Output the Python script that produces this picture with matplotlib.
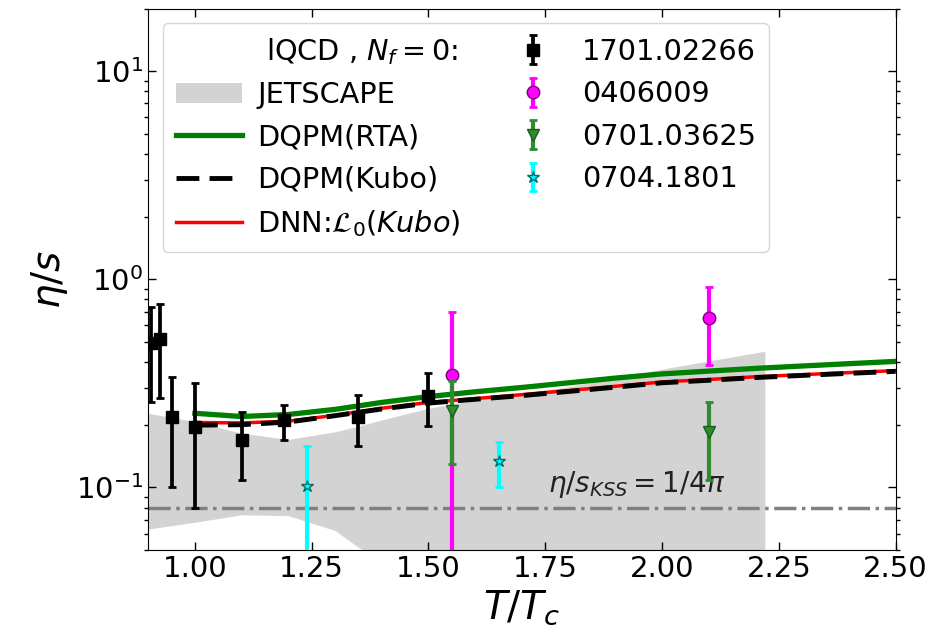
import numpy as np
import matplotlib
matplotlib.use("Agg")
import matplotlib.pyplot as plt
from matplotlib.lines import Line2D
from matplotlib.patches import Patch

# ---- data ----
# JETSCAPE band
band_x = [0.90, 1.00, 1.10, 1.20, 1.30, 1.35, 1.40, 1.50, 1.60, 1.70, 1.80, 1.90, 2.00, 2.10, 2.22]
band_hi = [0.227, 0.207, 0.182, 0.170, 0.185, 0.197, 0.211, 0.240, 0.262, 0.283, 0.305, 0.335, 0.370, 0.405, 0.451]
band_lo = [0.063, 0.068, 0.0738, 0.0731, 0.062, 0.0515, 0.045, 0.036, 0.030, 0.026, 0.023, 0.021, 0.020, 0.019, 0.018]

# curves
curve_x = [1.0, 1.1, 1.2, 1.3, 1.4, 1.5, 1.6, 1.7, 1.8, 1.9, 2.0, 2.1, 2.2, 2.3, 2.4, 2.5]
rta = [0.227, 0.219, 0.224, 0.237, 0.256, 0.273, 0.288, 0.302, 0.318, 0.335, 0.351, 0.362, 0.373, 0.383, 0.393, 0.403]
kubo = [0.199, 0.200, 0.206, 0.221, 0.238, 0.254, 0.265, 0.276, 0.289, 0.303, 0.318, 0.327, 0.337, 0.345, 0.353, 0.361]
dnn = [0.205, 0.204, 0.208, 0.222, 0.240, 0.256, 0.267, 0.279, 0.292, 0.306, 0.321, 0.330, 0.340, 0.348, 0.356, 0.364]

# lattice data
b_x = [0.906, 0.926, 0.951, 1.0, 1.1, 1.19, 1.35, 1.5]
b_y = [0.494, 0.517, 0.219, 0.196, 0.169, 0.210, 0.219, 0.275]
b_hi = [0.732, 0.763, 0.339, 0.317, 0.229, 0.248, 0.278, 0.354]
b_lo = [0.258, 0.268, 0.100, 0.0795, 0.109, 0.169, 0.158, 0.198]

m_x = [1.55, 2.1]
m_y = [0.345, 0.648]
m_hi = [0.695, 0.918]
m_lo = [0.01, 0.386]

g_x = [1.55, 2.1]
g_y = [0.234, 0.185]
g_hi = [0.323, 0.257]
g_lo = [0.130, 0.108]

c_x = [1.24, 1.65]
c_y = [0.1015, 0.134]
c_hi = [0.158, 0.166]
c_lo = [0.01, 0.100]

kss = 1.0 / (4 * np.pi)

def err(y, lo, hi):
    y = np.asarray(y); lo = np.asarray(lo); hi = np.asarray(hi)
    return [y - lo, hi - y]

fig = plt.figure(figsize=(9.32, 6.34), dpi=100)
ax = fig.add_axes([0.159, 0.1325, 0.802, 0.854])

band = ax.fill_between(band_x, band_lo, band_hi, color='#d3d3d3', lw=0, zorder=1)
ax.axhline(kss, color='gray', ls='-.', lw=2.5, zorder=2)

l_rta, = ax.plot(curve_x, rta, color='green', lw=3.8, zorder=3)
l_dnn, = ax.plot(curve_x, dnn, color='red', lw=2.5, zorder=3)
l_kubo, = ax.plot(curve_x, kubo, color='black', lw=3.5, dashes=(4.7, 2.1), zorder=4)

eb_b = ax.errorbar(b_x, b_y, yerr=err(b_y, b_lo, b_hi), fmt='s', color='black',
                   ms=9, elinewidth=2.7, capsize=3, capthick=2, zorder=5)
eb_m = ax.errorbar(m_x, m_y, yerr=err(m_y, m_lo, m_hi), fmt='o', color='magenta',
                   mfc='magenta', mec='#7a007a', ms=9, elinewidth=3, capsize=3, capthick=2, zorder=5)
eb_g = ax.errorbar(g_x, g_y, yerr=err(g_y, g_lo, g_hi), fmt='v', color='#2e8b2e',
                   mfc='#2e8b2e', mec='#1a5e1a', ms=9, elinewidth=3, capsize=3, capthick=2, zorder=6)
eb_c = ax.errorbar(c_x, c_y, yerr=err(c_y, c_lo, c_hi), fmt='*', color='cyan',
                   mfc='cyan', mec='#006b6b', ms=9, elinewidth=3, capsize=3, capthick=2, zorder=6)

ax.text(1.755, 0.103, r'$\eta/s_{KSS}=1/4\pi$', fontsize=20, ha='left', va='center', color='#222222')

ax.set_yscale('log')
ax.set_xlim(0.9, 2.5)
ax.set_ylim(0.05, 20)
ax.set_xticks([1.0, 1.25, 1.5, 1.75, 2.0, 2.25, 2.5])
ax.set_xticklabels(['1.00', '1.25', '1.50', '1.75', '2.00', '2.25', '2.50'])
ax.tick_params(which='major', direction='in', top=True, right=True, length=6, width=1, labelsize=21)
ax.tick_params(which='minor', direction='out', right=True, length=3, width=1)
ax.set_xlabel(r'$T/T_c$', fontsize=28)
ax.set_ylabel(r'$\eta/s$', fontsize=28)

blank = Line2D([], [], color='none')
jet = Patch(facecolor='#d3d3d3', edgecolor='none')
handles = [blank, jet, l_rta, l_kubo, l_dnn, eb_b, eb_m, eb_g, eb_c]
labels = [r' lQCD , $N_f=0$:', 'JETSCAPE', 'DQPM(RTA)', 'DQPM(Kubo)', r'DNN:$\mathcal{L}_0(Kubo)$',
          '1701.02266', '0406009', '0701.03625', '0704.1801']
ax.legend(handles, labels, ncol=2, loc='upper left', fontsize=20.7, handlelength=2.3,
          handletextpad=0.55, columnspacing=1.35, labelspacing=0.5, borderpad=0.45)

fig.savefig('out.png', dpi=100)
